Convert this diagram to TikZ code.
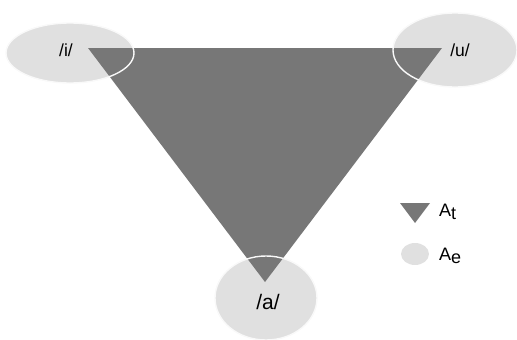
\documentclass[tikz,border=0pt]{standalone}
\usepackage{fontspec}
\setmainfont{Liberation Sans}
\definecolor{tri}{HTML}{777777}
\definecolor{ell}{HTML}{E0E0E0}
\begin{document}
\begin{tikzpicture}[x=1pt,y=-1pt,
  vowel/.style={fill=ell},
  rim/.style={draw=white!80!ell,line width=1.4pt},
  lbl/.style={inner sep=0pt,font=\fontsize{17.5}{17.5}\selectfont},
  leg/.style={inner sep=0pt,anchor=west,font=\fontsize{18}{18}\selectfont}]
\useasboundingbox (0,0) rectangle (517,340);
% ellipses (fills)
\fill[vowel] (70,53) ellipse [x radius=64, y radius=30];
\fill[vowel] (455,50) ellipse [x radius=62, y radius=37];
\fill[vowel] (266,298) ellipse [x radius=51, y radius=42];
% triangle
\coordinate (ti) at (88,48);
\coordinate (tu) at (442,48);
\coordinate (ta) at (265,282);
\fill[tri] (ti) -- (tu) -- (ta) -- cycle;
% ellipse rims
\draw[rim] (70,53) ellipse [x radius=64, y radius=30];
\draw[rim] (455,50) ellipse [x radius=62, y radius=37];
\draw[rim] (266,298) ellipse [x radius=51, y radius=42];
% labels
\node[lbl] (i) at (66,50) {/i/};
\node[lbl] (u) at (460,50) {/u/};
\node[lbl,font=\fontsize{21}{21}\selectfont] (a) at (268,302) {/a/};
% legend
\coordinate (l1) at (400,203);
\coordinate (l2) at (430,203);
\coordinate (l3) at (415,223);
\fill[tri] (l1) -- (l2) -- (l3) -- cycle;
\fill[vowel] (415,254) ellipse [x radius=14, y radius=11];
\node[leg] (at) at (439,212) {A\raisebox{-0.25ex}{t}};
\node[leg] (ae) at (439,256) {A\raisebox{-0.25ex}{e}};
\end{tikzpicture}
\end{document}
